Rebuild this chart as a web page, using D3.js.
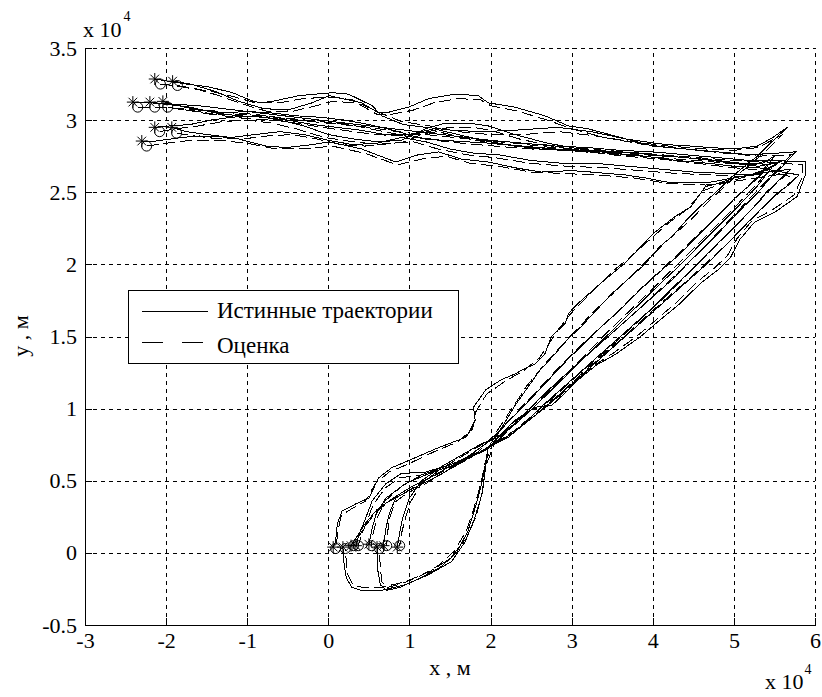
<!DOCTYPE html>
<html>
<head>
<meta charset="utf-8">
<script src="https://cdn.jsdelivr.net/npm/d3@7"></script>
<style>
  body { margin: 0; background: #fff; }
  svg text { font-family: "Liberation Serif", "Times New Roman", serif; fill: #000; }
</style>
</head>
<body>
<svg id="chart" width="822" height="697"></svg>
<script>
// Axis ticks (values in units of 10^4 m)
const xTicks = [-3, -2, -1, 0, 1, 2, 3, 4, 5, 6];
const yTicks = [-0.5, 0, 0.5, 1, 1.5, 2, 2.5, 3, 3.5];
const xTickLabels = ["-3", "-2", "-1", "0", "1", "2", "3", "4", "5", "6"];
const yTickLabels = ["-0.5", "0", "0.5", "1", "1.5", "2", "2.5", "3", "3.5"];
const legendLabels = ["Истинные траектории", "Оценка"];

// True target trajectories, [x, y] in 10^4 m
const true1 = [[-2.14,3.285],[-1.98,3.27],[-1.75,3.25],[-1.47,3.23],[-1.18,3.19],[-0.97,3.14],[-0.85,3.12],[-0.69,3.13],[-0.36,3.17],[0.05,3.19],[0.25,3.18],[0.54,3.10],[0.66,3.03],[0.92,2.97],[1.2,2.95],[1.52,2.93],[1.9,2.92],[2.3,2.93],[2.83,2.95],[3.24,2.92],[3.66,2.87],[3.90,2.85],[4.18,2.83],[4.47,2.82],[4.71,2.81],[5.01,2.80],[5.29,2.82],[5.48,2.88],[5.66,2.95],[5.45,2.84],[5.29,2.75],[5.13,2.68],[4.96,2.6],[4.78,2.5],[4.6,2.41],[4.42,2.31],[4.25,2.2],[4.08,2.12],[3.9,2.0],[3.7,1.9],[3.5,1.8],[3.3,1.68],[3.12,1.57],[2.95,1.48],[2.78,1.37],[2.6,1.26],[2.45,1.14],[2.3,1.02],[2.15,0.88],[1.97,0.73],[1.60,0.62],[1.24,0.55],[0.95,0.48],[0.71,0.38],[0.59,0.27],[0.54,0.17],[0.50,0.06]];
const true2 = [[-1.92,3.27],[-1.7,3.25],[-1.4,3.2],[-1.1,3.13],[-0.8,3.08],[-0.5,3.07],[-0.2,3.12],[0.01,3.17],[0.41,3.12],[0.62,3.05],[0.71,3.05],[0.99,3.09],[1.24,3.15],[1.57,3.18],[1.85,3.17],[1.97,3.12],[2.30,3.09],[2.67,3.03],[2.96,2.96],[3.20,2.94],[3.6,2.88],[4.0,2.82],[4.4,2.80],[4.8,2.78],[5.2,2.76],[5.5,2.77],[5.76,2.78],[5.6,2.68],[5.45,2.6],[5.3,2.5],[5.12,2.4],[4.95,2.3],[4.78,2.2],[4.6,2.1],[4.42,2.0],[4.25,1.9],[4.05,1.8],[3.85,1.7],[3.65,1.6],[3.45,1.5],[3.25,1.4],[3.05,1.3],[2.85,1.2],[2.66,1.1],[2.48,1.0],[2.3,0.9],[2.13,0.8],[1.97,0.73],[1.93,0.55],[1.89,0.4],[1.81,0.25],[1.69,0.08],[1.52,-0.06],[1.24,-0.15],[0.95,-0.22],[0.66,-0.26],[0.41,-0.26],[0.29,-0.24],[0.22,-0.17],[0.19,-0.06],[0.18,0.04]];
const true3 = [[-2.41,3.125],[-2.2,3.12],[-1.9,3.11],[-1.6,3.1],[-1.3,3.08],[-1.0,3.06],[-0.7,3.04],[-0.4,3.02],[-0.1,3.0],[0.2,2.98],[0.5,2.96],[0.8,2.94],[1.1,2.92],[1.4,2.9],[1.7,2.88],[2.0,2.86],[2.4,2.84],[2.8,2.82],[3.2,2.81],[3.6,2.79],[4.0,2.78],[4.4,2.76],[4.8,2.74],[5.2,2.72],[5.5,2.72],[5.88,2.71],[5.88,2.62],[5.78,2.47],[5.5,2.36],[5.25,2.29],[5.07,2.17],[4.96,2.05],[4.80,1.96],[4.59,1.87],[4.34,1.73],[4.1,1.62],[3.85,1.5],[3.55,1.38],[3.3,1.3],[3.08,1.2],[2.92,1.11],[2.75,1.02],[2.55,1.01],[2.30,0.92],[2.06,0.78],[1.97,0.73],[1.9,0.5],[1.82,0.33],[1.72,0.15],[1.58,0.0],[1.38,-0.1],[1.11,-0.18],[0.88,-0.24],[0.72,-0.26],[0.64,-0.22],[0.61,-0.12],[0.60,0.04]];
const true4 = [[-2.20,3.125],[-2.0,3.11],[-1.7,3.09],[-1.4,3.05],[-1.1,3.03],[-0.8,3.02],[-0.5,3.0],[-0.2,2.97],[0.1,2.95],[0.4,2.93],[0.7,2.9],[1.0,2.9],[1.3,2.94],[1.6,2.9],[1.9,2.86],[2.2,2.83],[2.6,2.8],[3.0,2.79],[3.4,2.78],[3.8,2.77],[4.2,2.75],[4.6,2.73],[5.0,2.7],[5.3,2.68],[5.5,2.7],[5.6,2.72],[5.4,2.66],[5.2,2.62],[5.0,2.6],[4.8,2.56],[4.65,2.54],[4.47,2.40],[4.27,2.33],[4.02,2.22],[3.78,2.08],[3.66,2.01],[3.36,1.87],[3.08,1.73],[2.96,1.66],[2.92,1.59],[2.75,1.50],[2.67,1.38],[2.55,1.31],[2.43,1.28],[2.30,1.24],[2.13,1.20],[1.94,1.13],[1.79,1.01],[1.81,0.92],[1.73,0.83],[1.69,0.80],[1.36,0.73],[0.99,0.64],[0.78,0.59],[0.62,0.52],[0.50,0.38],[0.34,0.34],[0.17,0.29],[0.11,0.20],[0.09,0.08],[0.06,0.04]];
const true5 = [[-2.04,3.13],[-1.85,3.1],[-1.6,3.07],[-1.3,3.05],[-1.0,3.06],[-0.7,3.05],[-0.4,3.03],[-0.1,3.02],[0.2,3.0],[0.5,2.97],[0.8,2.93],[1.1,2.88],[1.4,2.86],[1.7,2.85],[2.0,2.84],[2.4,2.82],[2.8,2.80],[3.2,2.79],[3.6,2.78],[4.0,2.76],[4.4,2.74],[4.8,2.72],[5.1,2.7],[5.35,2.7],[5.5,2.75],[5.35,2.63],[5.2,2.55],[5.05,2.48],[4.88,2.38],[4.7,2.28],[4.52,2.18],[4.35,2.08],[4.15,1.98],[3.95,1.88],[3.75,1.77],[3.55,1.66],[3.35,1.56],[3.15,1.45],[2.95,1.34],[2.75,1.22],[2.55,1.1],[2.38,1.0],[2.2,0.9],[2.05,0.8],[1.85,0.72],[1.69,0.64],[1.24,0.50],[0.99,0.43],[0.83,0.38],[0.75,0.27],[0.71,0.17],[0.68,0.05]];
const true6 = [[-2.14,2.95],[-1.95,2.96],[-1.7,2.97],[-1.45,3.0],[-1.2,3.02],[-0.9,3.03],[-0.6,3.0],[-0.3,2.96],[0.0,2.9],[0.3,2.87],[0.6,2.85],[0.9,2.86],[1.20,2.94],[1.45,2.98],[1.73,2.98],[1.97,2.96],[2.3,2.9],[2.7,2.84],[3.1,2.8],[3.5,2.77],[3.9,2.75],[4.3,2.72],[4.7,2.7],[5.0,2.68],[5.3,2.67],[5.8,2.62],[5.7,2.56],[5.55,2.5],[5.4,2.42],[5.22,2.32],[5.05,2.22],[4.88,2.12],[4.7,2.02],[4.5,1.92],[4.3,1.82],[4.1,1.72],[3.9,1.62],[3.7,1.52],[3.5,1.42],[3.3,1.32],[3.1,1.22],[2.9,1.12],[2.7,1.02],[2.5,0.93],[2.3,0.84],[2.1,0.77],[1.9,0.7],[1.55,0.62],[1.2,0.56],[0.90,0.55],[0.71,0.48],[0.54,0.36],[0.46,0.24],[0.38,0.13],[0.34,0.05]];
const true7 = [[-1.93,2.95],[-1.75,2.92],[-1.5,2.9],[-1.2,2.88],[-0.9,2.9],[-0.6,2.92],[-0.3,2.9],[0.0,2.86],[0.3,2.83],[0.6,2.84],[0.9,2.88],[1.2,2.85],[1.5,2.8],[1.8,2.77],[2.1,2.76],[2.5,2.72],[2.9,2.7],[3.3,2.7],[3.7,2.68],[4.1,2.66],[4.5,2.64],[4.9,2.63],[5.2,2.62],[5.45,2.66],[5.3,2.55],[5.15,2.46],[4.98,2.36],[4.8,2.26],[4.62,2.16],[4.45,2.06],[4.27,1.96],[4.08,1.86],[3.88,1.75],[3.68,1.64],[3.48,1.53],[3.28,1.42],[3.08,1.31],[2.88,1.2],[2.68,1.09],[2.48,0.98],[2.28,0.88],[2.1,0.8],[1.9,0.76],[1.65,0.68],[1.4,0.6],[1.15,0.5],[1.0,0.38],[0.92,0.25],[0.88,0.14],[0.85,0.04]];
const true8 = [[-2.30,2.855],[-2.20,2.85],[-1.80,2.88],[-1.59,2.89],[-1.18,2.88],[-0.77,2.82],[-0.52,2.81],[-0.2,2.83],[0.01,2.85],[0.41,2.80],[0.83,2.71],[1.11,2.76],[1.36,2.78],[1.64,2.73],[1.97,2.71],[2.30,2.67],[2.62,2.64],[3.0,2.65],[3.24,2.64],[3.66,2.62],[3.90,2.60],[4.18,2.57],[4.47,2.57],[4.71,2.57],[5.0,2.6],[5.3,2.63],[5.7,2.66],[5.55,2.58],[5.4,2.5],[5.25,2.4],[5.08,2.3],[4.9,2.2],[4.72,2.1],[4.55,2.0],[4.36,1.9],[4.18,1.8],[4.0,1.7],[3.8,1.6],[3.6,1.5],[3.4,1.4],[3.2,1.3],[3.0,1.2],[2.8,1.1],[2.6,1.0],[2.42,0.9],[2.22,0.8],[2.0,0.74],[1.75,0.66],[1.5,0.6],[1.25,0.52],[1.0,0.45],[0.8,0.38],[0.6,0.3],[0.45,0.2],[0.36,0.12],[0.28,0.05]];

// Filter estimates of the same trajectories
const est1 = [[-2.07,3.25],[-1.9,3.24],[-1.7,3.22],[-1.45,3.2],[-1.15,3.16],[-0.9,3.12],[-0.6,3.12],[-0.3,3.15],[0.05,3.16],[0.3,3.14],[0.6,3.06],[0.9,2.99],[1.25,2.96],[1.6,2.92],[2.0,2.9],[2.4,2.9],[2.85,2.92],[3.3,2.89],[3.75,2.85],[4.2,2.82],[4.65,2.8],[5.0,2.79],[5.3,2.81],[5.6,2.9],[5.42,2.8],[5.22,2.7],[5.0,2.6],[4.75,2.47],[4.45,2.3],[4.15,2.15],[3.88,2.0],[3.55,1.82],[3.25,1.66],[2.98,1.5],[2.7,1.33],[2.45,1.16],[2.25,0.99],[2.05,0.82],[1.85,0.7],[1.5,0.61],[1.15,0.54],[0.9,0.46],[0.7,0.36],[0.6,0.24],[0.55,0.13],[0.53,0.05]];
const est2 = [[-1.86,3.24],[-1.65,3.22],[-1.35,3.17],[-1.05,3.11],[-0.75,3.06],[-0.45,3.06],[-0.15,3.1],[0.05,3.13],[0.35,3.12],[0.6,3.04],[0.78,3.04],[1.05,3.07],[1.3,3.12],[1.6,3.15],[1.88,3.14],[2.0,3.1],[2.35,3.06],[2.7,3.0],[3.0,2.94],[3.4,2.88],[3.9,2.83],[4.4,2.8],[4.9,2.77],[5.3,2.75],[5.7,2.76],[5.55,2.66],[5.3,2.52],[5.0,2.34],[4.7,2.16],[4.4,1.99],[4.08,1.82],[3.75,1.65],[3.45,1.5],[3.15,1.35],[2.85,1.2],[2.55,1.04],[2.28,0.89],[2.05,0.76],[1.94,0.6],[1.9,0.42],[1.82,0.25],[1.7,0.1],[1.5,-0.04],[1.25,-0.13],[0.95,-0.2],[0.65,-0.24],[0.42,-0.24],[0.3,-0.22],[0.24,-0.15],[0.22,-0.05],[0.21,0.03]];
const est3 = [[-2.35,3.09],[-2.1,3.09],[-1.8,3.08],[-1.5,3.07],[-1.2,3.05],[-0.9,3.04],[-0.55,3.01],[-0.2,2.99],[0.15,2.97],[0.5,2.95],[0.85,2.92],[1.2,2.9],[1.55,2.88],[1.9,2.86],[2.3,2.84],[2.75,2.81],[3.2,2.8],[3.65,2.78],[4.1,2.76],[4.55,2.74],[5.0,2.72],[5.4,2.71],[5.84,2.69],[5.84,2.6],[5.74,2.48],[5.48,2.38],[5.22,2.3],[5.04,2.18],[4.92,2.06],[4.75,1.97],[4.55,1.88],[4.3,1.74],[4.05,1.62],[3.8,1.5],[3.5,1.38],[3.25,1.29],[3.05,1.19],[2.88,1.1],[2.72,1.03],[2.5,0.99],[2.27,0.9],[2.04,0.77],[1.93,0.62],[1.88,0.48],[1.8,0.32],[1.7,0.15],[1.55,0.01],[1.35,-0.09],[1.1,-0.17],[0.87,-0.22],[0.72,-0.24],[0.66,-0.2],[0.64,-0.1],[0.63,0.03]];
const est4 = [[-2.14,3.09],[-1.9,3.08],[-1.6,3.06],[-1.3,3.03],[-1.0,3.01],[-0.65,3.0],[-0.3,2.97],[0.05,2.94],[0.45,2.91],[0.8,2.89],[1.1,2.9],[1.35,2.92],[1.65,2.88],[2.0,2.84],[2.45,2.81],[2.9,2.79],[3.4,2.77],[3.9,2.76],[4.4,2.74],[4.9,2.71],[5.3,2.69],[5.55,2.7],[5.35,2.64],[5.1,2.6],[4.85,2.56],[4.62,2.51],[4.42,2.38],[4.2,2.29],[3.98,2.18],[3.72,2.05],[3.5,1.95],[3.25,1.81],[3.02,1.68],[2.85,1.56],[2.72,1.45],[2.6,1.35],[2.4,1.26],[2.18,1.19],[1.95,1.1],[1.82,0.98],[1.78,0.86],[1.6,0.77],[1.3,0.7],[1.0,0.62],[0.75,0.56],[0.58,0.48],[0.46,0.36],[0.3,0.31],[0.16,0.26],[0.12,0.16],[0.1,0.06],[0.09,0.03]];
const est5 = [[-1.98,3.09],[-1.75,3.07],[-1.45,3.04],[-1.15,3.04],[-0.8,3.03],[-0.45,3.01],[-0.1,2.99],[0.25,2.97],[0.6,2.93],[0.95,2.89],[1.3,2.86],[1.65,2.84],[2.05,2.82],[2.5,2.8],[2.95,2.79],[3.4,2.77],[3.85,2.75],[4.3,2.73],[4.75,2.71],[5.15,2.69],[5.45,2.72],[5.3,2.61],[5.1,2.5],[4.85,2.36],[4.6,2.23],[4.35,2.09],[4.1,1.96],[3.85,1.83],[3.6,1.69],[3.35,1.56],[3.1,1.43],[2.85,1.29],[2.6,1.14],[2.38,1.01],[2.18,0.89],[2.0,0.78],[1.8,0.7],[1.55,0.6],[1.2,0.48],[0.96,0.41],[0.82,0.35],[0.76,0.25],[0.73,0.14],[0.72,0.05]];
const est6 = [[-2.08,2.92],[-1.88,2.94],[-1.6,2.96],[-1.3,2.99],[-1.0,3.0],[-0.7,2.98],[-0.4,2.94],[-0.05,2.88],[0.3,2.85],[0.65,2.83],[0.95,2.85],[1.22,2.92],[1.5,2.95],[1.78,2.95],[2.0,2.93],[2.35,2.87],[2.75,2.82],[3.2,2.78],[3.65,2.75],[4.1,2.73],[4.55,2.7],[5.0,2.67],[5.4,2.65],[5.76,2.6],[5.62,2.53],[5.42,2.43],[5.2,2.3],[4.95,2.16],[4.7,2.03],[4.45,1.9],[4.18,1.77],[3.92,1.64],[3.65,1.5],[3.38,1.37],[3.1,1.23],[2.85,1.1],[2.6,0.98],[2.35,0.87],[2.12,0.78],[1.88,0.7],[1.5,0.61],[1.15,0.54],[0.88,0.52],[0.7,0.45],[0.55,0.33],[0.47,0.21],[0.4,0.11],[0.37,0.05]];
const est7 = [[-1.87,2.91],[-1.65,2.89],[-1.35,2.87],[-1.05,2.87],[-0.75,2.89],[-0.45,2.9],[-0.15,2.87],[0.15,2.83],[0.45,2.82],[0.75,2.84],[1.05,2.85],[1.35,2.8],[1.7,2.76],[2.05,2.74],[2.5,2.7],[2.95,2.68],[3.4,2.67],[3.85,2.65],[4.3,2.63],[4.75,2.62],[5.1,2.61],[5.4,2.63],[5.22,2.52],[5.0,2.39],[4.75,2.25],[4.5,2.11],[4.25,1.97],[3.98,1.82],[3.7,1.67],[3.42,1.52],[3.15,1.36],[2.88,1.21],[2.62,1.07],[2.38,0.94],[2.15,0.83],[1.92,0.76],[1.65,0.67],[1.38,0.58],[1.15,0.48],[1.02,0.36],[0.95,0.24],[0.9,0.13],[0.88,0.05]];
const est8 = [[-2.24,2.82],[-2.0,2.84],[-1.7,2.86],[-1.35,2.86],[-1.0,2.84],[-0.65,2.8],[-0.3,2.8],[0.05,2.82],[0.45,2.77],[0.85,2.69],[1.15,2.73],[1.45,2.75],[1.75,2.7],[2.1,2.68],[2.5,2.64],[2.9,2.63],[3.3,2.62],[3.75,2.6],[4.2,2.56],[4.65,2.55],[5.05,2.58],[5.4,2.61],[5.66,2.63],[5.5,2.55],[5.3,2.43],[5.08,2.3],[4.85,2.17],[4.6,2.03],[4.35,1.89],[4.1,1.75],[3.85,1.62],[3.58,1.48],[3.32,1.35],[3.05,1.22],[2.8,1.09],[2.55,0.97],[2.3,0.85],[2.05,0.76],[1.78,0.67],[1.5,0.59],[1.22,0.51],[0.98,0.43],[0.76,0.36],[0.58,0.28],[0.45,0.18],[0.36,0.1],[0.31,0.05]];

const trueTracks = [true1, true2, true3, true4, true5, true6, true7, true8];
const estTracks = [est1, est2, est3, est4, est5, est6, est7, est8];

const svg = d3.select("#chart");
const plotLeft = 85, plotRight = 815, plotTop = 48, plotBottom = 625;
const FONT = 22;

const x = d3.scaleLinear().domain([-3, 6]).range([plotLeft, plotRight]);
const y = d3.scaleLinear().domain([-0.5, 3.5]).range([plotBottom, plotTop]);
const px = v => Math.round(v) + 0.5;

// dashed grid
const grid = svg.append("g");
grid.selectAll("line.gx").data(xTicks.slice(1)).join("line").attr("class", "gx")
  .attr("x1", d => px(x(d))).attr("x2", d => px(x(d)))
  .attr("y1", plotBottom).attr("y2", plotTop);
grid.selectAll("line.gy").data(yTicks.slice(1)).join("line").attr("class", "gy")
  .attr("y1", d => px(y(d))).attr("y2", d => px(y(d)))
  .attr("x1", plotLeft).attr("x2", plotRight);
grid.selectAll("line").attr("stroke", "#000").attr("stroke-width", 1)
  .attr("stroke-dasharray", "4,4");

// trajectories
const line = d3.line().x(d => x(d[0])).y(d => y(d[1]));
const tracks = svg.append("g").attr("fill", "none").attr("stroke", "#000")
  .attr("stroke-width", 1).attr("shape-rendering", "crispEdges");
tracks.selectAll("path.true").data(trueTracks).join("path")
  .attr("class", "true").attr("d", line);
tracks.selectAll("path.est").data(estTracks).join("path")
  .attr("class", "est").attr("d", line).attr("stroke-dasharray", "12,5");

// markers: star for true track ends, circle for estimate ends
const starPath = s => `M${-s},0H${s}M0,${-s}V${s}M${-s*0.72},${-s*0.72}L${s*0.72},${s*0.72}M${-s*0.72},${s*0.72}L${s*0.72},${-s*0.72}`;
const marks = svg.append("g").attr("fill", "none").attr("stroke", "#000").attr("stroke-width", 1);
trueTracks.forEach(t => {
  [t[0], t[t.length - 1]].forEach(p => {
    marks.append("path").attr("transform", `translate(${x(p[0])},${y(p[1])})`).attr("d", starPath(6));
  });
});
estTracks.forEach(t => {
  [t[0], t[t.length - 1]].forEach(p => {
    marks.append("circle").attr("cx", x(p[0])).attr("cy", y(p[1])).attr("r", 5);
  });
});

// axes with inward ticks
const xAxis = d3.axisBottom(x).tickValues(xTicks).tickFormat((d, i) => xTickLabels[i])
  .tickSizeInner(-7).tickSizeOuter(0).tickPadding(7);
const yAxis = d3.axisLeft(y).tickValues(yTicks).tickFormat((d, i) => yTickLabels[i])
  .tickSizeInner(-7).tickSizeOuter(0).tickPadding(8);
const gx = svg.append("g").attr("transform", `translate(0,${plotBottom})`).call(xAxis);
const gy = svg.append("g").attr("transform", `translate(${plotLeft},0)`).call(yAxis);
[gx, gy].forEach(g => {
  g.selectAll("path,line").attr("stroke", "#000").attr("shape-rendering", "crispEdges");
  g.selectAll("text").attr("font-family", "Liberation Serif").attr("font-size", FONT).attr("fill", "#000");
});

// exponent labels
const exp1 = svg.append("text").attr("x", 83).attr("y", 37).attr("font-size", FONT);
exp1.append("tspan").text("x 10");
exp1.append("tspan").attr("dy", -16).attr("dx", 2).attr("font-size", 14).text("4");
const exp2 = svg.append("text").attr("x", 765).attr("y", 689).attr("font-size", FONT);
exp2.append("tspan").text("x 10");
exp2.append("tspan").attr("dy", -15).attr("dx", 1).attr("font-size", 14).text("4");

// axis titles
svg.append("text").attr("x", 450).attr("y", 675).attr("text-anchor", "middle")
  .attr("font-size", FONT).text("x , м");
svg.append("text").attr("transform", "translate(28,336) rotate(-90)")
  .attr("text-anchor", "middle").attr("font-size", FONT).text("y , м");

// legend
const lg = svg.append("g");
lg.append("rect").attr("x", 128.5).attr("y", 290.5).attr("width", 330).attr("height", 73)
  .attr("fill", "#fff").attr("stroke", "#000").attr("stroke-width", 1);
lg.append("line").attr("x1", 142).attr("x2", 208).attr("y1", 311.5).attr("y2", 311.5)
  .attr("stroke", "#000");
lg.append("line").attr("x1", 142).attr("x2", 208).attr("y1", 342.5).attr("y2", 342.5)
  .attr("stroke", "#000").attr("stroke-dasharray", "21,19");
lg.selectAll("text.lab").data(legendLabels).join("text").attr("class", "lab")
  .attr("x", 217).attr("y", (d, i) => 318 + i * 35).attr("font-size", FONT + 1).text(d => d);
</script>
</body>
</html>
